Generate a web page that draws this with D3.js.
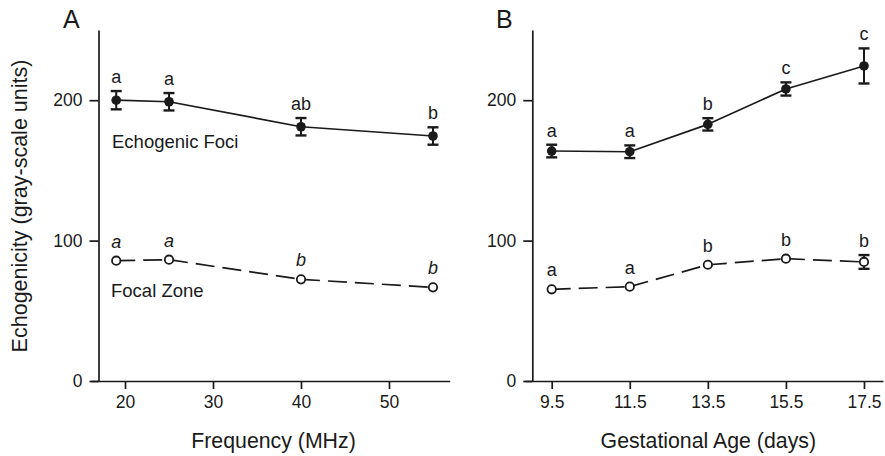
<!DOCTYPE html>
<html lang="en">
<head>
<meta charset="UTF-8">
<script src="https://d3js.org/d3.v7.min.js"></script>
<title></title>
<style>
	body { margin: 0; background: #fff; }
	svg { font-family: "Liberation Sans", Arial, Helvetica, sans-serif; }
</style>
</head>
<body>
<svg width="885" height="456"></svg>
<script>
	// panel A: frequency
	var freq = [19, 25, 40, 55];
	var fociA = [200, 198.9, 181.1, 174.5];
	var fociAErr = [6.5, 6.2, 6.2, 6.2];
	var focalA = [85.7, 86.4, 72.4, 66.7];
	var focalAErr = [0, 0, 0, 0];
	var fociALabels = ["a", "a", "ab", "b"];
	var focalALabels = ["a", "a", "b", "b"];
	var freqTicks = [20, 30, 40, 50];

	// panel B: gestational age
	var age = [9.5, 11.5, 13.5, 15.5, 17.5];
	var fociB = [163.8, 163.3, 182.8, 208, 224.4];
	var fociBErr = [4.5, 4.5, 4.4, 4.7, 12.5];
	var focalB = [65.3, 67.2, 82.8, 87.1, 84.8];
	var focalBErr = [0, 0, 0, 0, 4.9];
	var fociBLabels = ["a", "a", "b", "c", "c"];
	var focalBLabels = ["a", "a", "b", "b", "b"];
	var ageTicks = ["9.5", "11.5", "13.5", "15.5", "17.5"];

	var yTicks = [0, 100, 200];
	var ink = "#1a1a1a";

	var svg = d3.select("svg");

	function panel(cfg) {
		var g = svg.append("g");
		var x = d3.scaleLinear().domain(cfg.xDomain).range(cfg.xRange);
		var y = d3.scaleLinear().domain([0, 250]).range([381, 30]);

		// axes
		var xAxis = d3.axisBottom(x).tickValues(cfg.ticks.map(Number))
			.tickFormat(function(d, i) { return cfg.ticks[i]; })
			.tickSize(8).tickSizeOuter(0).tickPadding(7);
		var yAxis = d3.axisLeft(y).tickValues(yTicks).tickSize(9).tickSizeOuter(0).tickPadding(7);

		var gx = g.append("g").attr("transform", "translate(0,381)").call(xAxis);
		var gy = g.append("g").attr("transform", "translate(" + cfg.yAxisX + ",0)").call(yAxis);
		[gx, gy].forEach(function(a) {
			a.selectAll("path, line").attr("stroke", ink).attr("stroke-width", 1.7);
			a.selectAll("text").attr("fill", ink).attr("font-size", 17.5)
				.attr("font-family", "Liberation Sans, Arial, sans-serif");
		});

		// series
		cfg.series.forEach(function(s) {
			var pts = cfg.xs.map(function(d, i) { return { x: d, v: s.values[i], e: s.err[i], l: s.labels[i] }; });
			var line = d3.line().x(function(d) { return x(d.x); }).y(function(d) { return y(d.v); });
			for (var i = 0; i < pts.length - 1; i++) {
				g.append("path").attr("d", line([pts[i], pts[i + 1]]))
					.attr("fill", "none").attr("stroke", ink).attr("stroke-width", 1.7)
					.attr("stroke-dasharray", s.dashed ? "19,8" : null);
			}
			var bars = pts.filter(function(d) { return d.e > 0; });
			bars.forEach(function(d) {
				var cx = x(d.x), t = y(d.v + d.e), b = y(d.v - d.e);
				g.append("line").attr("x1", cx).attr("x2", cx).attr("y1", t).attr("y2", b)
					.attr("stroke", ink).attr("stroke-width", 2);
				[t, b].forEach(function(yy) {
					g.append("line").attr("x1", cx - 5.5).attr("x2", cx + 5.5).attr("y1", yy).attr("y2", yy)
						.attr("stroke", ink).attr("stroke-width", 2.4);
				});
			});
			g.selectAll(null).data(pts).enter().append("circle")
				.attr("cx", function(d) { return x(d.x); })
				.attr("cy", function(d) { return y(d.v); })
				.attr("r", s.filled ? 4.8 : 4.2)
				.attr("fill", s.filled ? ink : "#fff")
				.attr("stroke", ink).attr("stroke-width", s.filled ? 0 : 1.8);
			g.selectAll(null).data(pts).enter().append("text")
				.attr("x", function(d) { return x(d.x); })
				.attr("y", function(d) { return Math.min(y(d.v + d.e), y(d.v) - 5) - 8; })
				.attr("text-anchor", "middle")
				.attr("font-size", 18)
				.attr("font-style", s.italic ? "italic" : "normal")
				.attr("fill", ink)
				.text(function(d) { return d.l; });
		});

		g.append("text").attr("x", cfg.letterX).attr("y", 28).attr("font-size", 25).attr("fill", ink).text(cfg.letter);
		g.append("text").attr("x", cfg.titleX).attr("y", 448).attr("text-anchor", "middle")
			.attr("font-size", 21.3).attr("fill", ink).text(cfg.title);
		return { g: g, x: x, y: y };
	}

	var pa = panel({
		xs: freq, xDomain: [16.1, 56.9], xRange: [90.7, 449.7], yAxisX: 98.5, ticks: freqTicks,
		letter: "A", letterX: 63, title: "Frequency (MHz)", titleX: 273.5,
		series: [
			{ values: fociA, err: fociAErr, labels: fociALabels, filled: true, dashed: false, italic: false },
			{ values: focalA, err: focalAErr, labels: focalALabels, filled: false, dashed: true, italic: true }
		]
	});
	pa.g.append("text").attr("x", 112).attr("y", 147.7).attr("font-size", 18.5).attr("fill", ink).text("Echogenic Foci");
	pa.g.append("text").attr("x", 111).attr("y", 296.7).attr("font-size", 18.5).attr("fill", ink).text("Focal Zone");

	panel({
		xs: age, xDomain: [8.816, 17.987], xRange: [525, 883], yAxisX: 532.3, ticks: ageTicks,
		letter: "B", letterX: 496, title: "Gestational Age (days)", titleX: 708.3,
		series: [
			{ values: fociB, err: fociBErr, labels: fociBLabels, filled: true, dashed: false, italic: false },
			{ values: focalB, err: focalBErr, labels: focalBLabels, filled: false, dashed: true, italic: false }
		]
	});

	svg.append("text")
		.attr("transform", "translate(27.3,206) rotate(-90)")
		.attr("text-anchor", "middle").attr("font-size", 21.5).attr("fill", ink)
		.text("Echogenicity (gray-scale units)");
</script>
</body>
</html>
